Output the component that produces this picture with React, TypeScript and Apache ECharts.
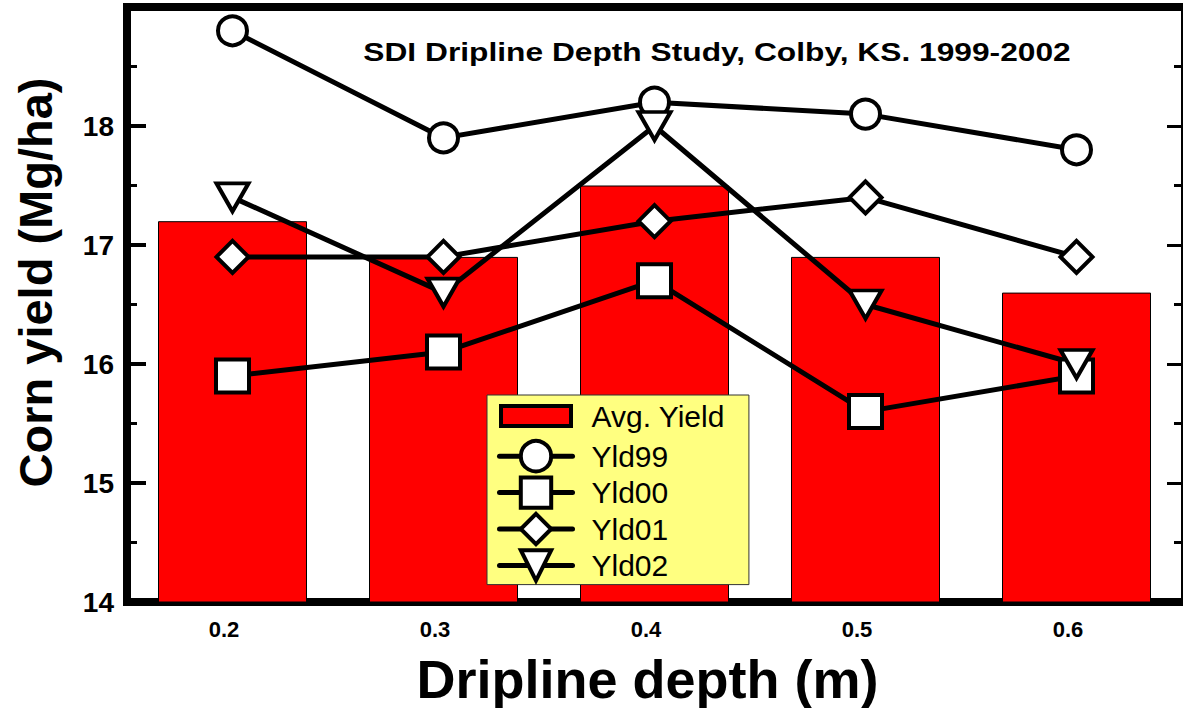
import React, { useEffect, useRef } from "react";
import * as echarts from "echarts";

const categories = ["0.2", "0.3", "0.4", "0.5", "0.6"];
const avgYield = [17.2, 16.9, 17.5, 16.9, 16.6];
const yld99 = [18.8, 17.9, 18.2, 18.1, 17.8];
const yld00 = [15.9, 16.1, 16.7, 15.6, 15.9];
const yld01 = [16.9, 16.9, 17.2, 17.4, 16.9];
const yld02 = [17.4, 16.6, 18.0, 16.5, 16.0];

const titleText = "SDI Dripline Depth Study, Colby, KS. 1999-2002";
const xTitle = "Dripline depth (m)";
const yTitle = "Corn yield (Mg/ha)";
const yMin = 14;
const yMax = 19;

const FONT = "'Liberation Sans', Arial, sans-serif";

export default function App() {
  const ref = useRef<HTMLDivElement>(null);
  useEffect(() => {
    if (!ref.current) return;
    const chart = echarts.init(ref.current, undefined, { renderer: "svg" });
    const lineBase = (name: string, data: number[], symbol: string, size: any, rotate = 0) => ({
      name,
      type: "line",
      data,
      symbol,
      symbolSize: size,
      symbolRotate: rotate,
      showAllSymbol: true,
      lineStyle: { color: "#000", width: 5 },
      itemStyle: { color: "#fff", borderColor: "#000", borderWidth: 4 },
      emphasis: { disabled: true },
      silent: true,
      z: 3,
    });
    chart.setOption({
      animation: false,
      textStyle: { fontFamily: FONT },
      grid: { left: 127, right: 1, top: 7, bottom: 106, containLabel: false, outerBoundsMode: "none" },
      legend: {
        left: 487,
        top: 395,
        orient: "vertical",
        itemWidth: 73,
        itemHeight: 38,
        itemGap: 2,
        padding: [0, 24, 2, 10],
        backgroundColor: "#ffff80",
        borderColor: "#333",
        borderWidth: 1,
        borderRadius: 0,
        selectedMode: false,
        lineStyle: { width: 5, cap: "round" },
        itemStyle: { borderWidth: 4 },
        textStyle: { fontSize: 30, color: "#000", fontFamily: FONT, padding: [0, 0, 0, 14] },
        data: [
          { name: "Avg. Yield", icon: "path://M0,0M0,38M0,9h70v20h-70z" },
          { name: "Yld99" },
          { name: "Yld00" },
          { name: "Yld01" },
          { name: "Yld02" },
        ],
      },
      xAxis: [
        {
          type: "category",
          data: categories,
          position: "bottom",
          boundaryGap: true,
          axisLine: { show: true, lineStyle: { color: "#000", width: 8, cap: "square" } },
          axisTick: { show: false },
          axisLabel: {
            fontSize: 22,
            fontWeight: "bold",
            color: "#000",
            margin: 16,
            padding: [0, 17, 0, 0],
          },
          name: xTitle,
          nameLocation: "middle",
          nameGap: 50,
          nameTextStyle: { fontSize: 54, fontWeight: "bold", color: "#000", padding: [0, 14, 0, 0] },
          splitLine: { show: false },
        },
        {
          type: "category",
          data: categories,
          position: "top",
          axisLine: { show: true, lineStyle: { color: "#000", width: 8, cap: "square" } },
          axisTick: { show: false },
          axisLabel: { show: false },
          splitLine: { show: false },
        },
      ],
      yAxis: [
        {
          type: "value",
          min: yMin,
          max: yMax,
          interval: 1,
          position: "left",
          axisLine: { show: true, lineStyle: { color: "#000", width: 8, cap: "square" } },
          axisTick: { show: true, inside: true, length: 19, lineStyle: { color: "#000", width: 4 } },
          minorTick: { show: true, splitNumber: 2, length: 10, lineStyle: { color: "#000", width: 3 } },
          axisLabel: {
            fontSize: 28,
            fontWeight: "bold",
            color: "#000",
            margin: 13,
            padding: [34, 0, 0, 0],
            showMaxLabel: false,
          },
          splitLine: { show: false },
          name: yTitle,
          nameLocation: "middle",
          nameGap: 68,
          nameRotate: 90,
          nameTextStyle: { fontSize: 47, fontWeight: "bold", color: "#000", padding: [0, 0, 0, 44] },
        },
        {
          type: "value",
          min: yMin,
          max: yMax,
          interval: 1,
          position: "right",
          axisLine: { show: true, lineStyle: { color: "#000", width: 2 } },
          axisTick: { show: true, inside: true, length: 15, lineStyle: { color: "#000", width: 3 } },
          minorTick: { show: true, splitNumber: 2, length: 8, lineStyle: { color: "#000", width: 3 } },
          axisLabel: { show: false },
          splitLine: { show: false },
        },
      ],
      graphic: [
        {
          type: "text",
          x: 717,
          y: 52,
          scaleX: 1.22,
          style: {
            text: titleText,
            font: `bold 26px ${FONT}`,
            fill: "#000",
            textAlign: "center",
            textVerticalAlign: "middle",
          },
          z: 10,
        },
      ],
      series: [
        {
          name: "Avg. Yield",
          type: "bar",
          data: avgYield,
          barWidth: 149,
          itemStyle: { color: "#ff0000", borderColor: "#000", borderWidth: 1 },
          emphasis: { disabled: true },
          silent: true,
          z: 1,
        },
        lineBase("Yld99", yld99, "circle", 29),
        lineBase("Yld00", yld00, "rect", 33),
        lineBase("Yld01", yld01, "diamond", 32),
        lineBase("Yld02", yld02, "triangle", [32, 28], 180),
      ],
    });
    return () => chart.dispose();
  }, []);
  return (
    <div
      ref={ref}
      style={{ position: "fixed", left: 0, top: 0, width: 1183, height: 708, background: "#fff" }}
    />
  );
}
